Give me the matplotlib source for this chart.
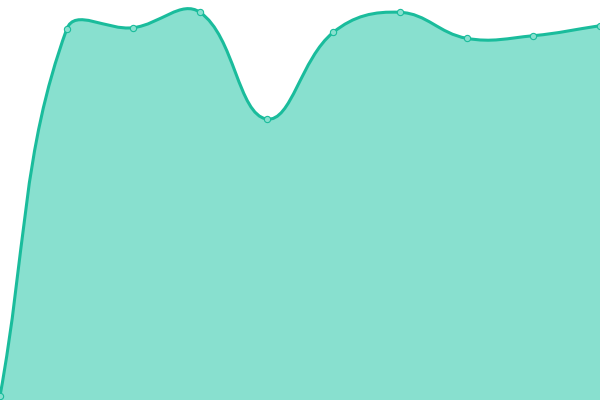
import numpy as np
import matplotlib
matplotlib.use("Agg")
import matplotlib.pyplot as plt
from matplotlib.path import Path
from matplotlib.patches import PathPatch

# values (0 = bottom edge, 400 = top edge)
x_pos = [0, 1, 2, 3, 4, 5, 6, 7, 8, 9]
values = [4, 370.7, 372.3, 387.7, 281, 367.7, 387.7, 361.7, 364.3, 374.3]

line_color = "#1abc9c"
fill_color = "#88e0cf"
tension = 0.4

fig = plt.figure(figsize=(6, 4), dpi=100)
ax = fig.add_axes([0, 0, 1, 1])
ax.set_xlim(0, 600)
ax.set_ylim(0, 400)
ax.axis("off")

# spread points over the width
px = np.array(x_pos, dtype=float) * 600 / (len(x_pos) - 1)
py = np.array(values, dtype=float)

# chart.js style spline control points
def ctrl_points(xs, ys, t):
    n = len(xs)
    prev_c = []
    next_c = []
    for i in range(n):
        p0 = np.array([xs[max(i - 1, 0)], ys[max(i - 1, 0)]])
        p1 = np.array([xs[i], ys[i]])
        p2 = np.array([xs[min(i + 1, n - 1)], ys[min(i + 1, n - 1)]])
        d01 = np.hypot(*(p1 - p0))
        d12 = np.hypot(*(p2 - p1))
        tot = d01 + d12
        s01 = d01 / tot if tot else 0
        s12 = d12 / tot if tot else 0
        fa = t * s01
        fb = t * s12
        prev_c.append(p1 - fa * (p2 - p0))
        next_c.append(p1 + fb * (p2 - p0))
    return prev_c, next_c

prev_c, next_c = ctrl_points(px, py, tension)

verts = [(px[0], py[0])]
codes = [Path.MOVETO]
for i in range(1, len(px)):
    verts += [tuple(next_c[i - 1]), tuple(prev_c[i]), (px[i], py[i])]
    codes += [Path.CURVE4] * 3

line_path = Path(verts, codes)
fill_path = Path(verts + [(px[-1], 0), (px[0], 0), (px[0], py[0])],
                 codes + [Path.LINETO, Path.LINETO, Path.CLOSEPOLY])

ax.add_patch(PathPatch(fill_path, facecolor=fill_color, edgecolor="none"))
ax.add_patch(PathPatch(line_path, facecolor="none", edgecolor=line_color, lw=2.2))
ax.plot(px, py, "o", ms=4.5, mfc=fill_color, mec=line_color, mew=0.8, clip_on=False)

fig.savefig("out.png", dpi=100)
